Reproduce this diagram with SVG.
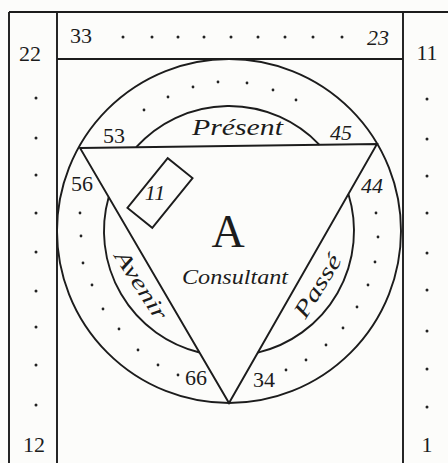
<svg xmlns="http://www.w3.org/2000/svg" width="448" height="463" viewBox="0 0 448 463">
<style>
.ln{stroke:#1c1c1c;stroke-width:1.9;fill:none}
.dt{fill:#222}
.num{font-family:"Liberation Serif",serif;font-size:22px;fill:#1c1c1c}
.scr{font-family:"Liberation Serif",serif;font-style:italic;fill:#1c1c1c}
</style>
<rect width="448" height="463" fill="#fcfcfa"/>
<g id="frame">
<path class="ln" d="M9,12H448M9,12V463M57,12V463M403,12V463M57,59H403"/>
<text class="num" x="30" y="61" text-anchor="middle">22</text>
<text class="num" x="427" y="60" text-anchor="middle" font-size="19">11</text>
<text class="num" x="34" y="452" text-anchor="middle">12</text>
<text class="num" x="427" y="452" text-anchor="middle" font-size="19">1</text>
<text class="num" x="70" y="43" font-size="23">33</text>
<text class="num" x="367" y="45" font-style="italic" font-size="23">23</text>
</g>
<g id="column-dots">
<g class="dt">
<circle cx="36" cy="98" r="1.5"/><circle cx="36" cy="138" r="1.5"/><circle cx="36" cy="175" r="1.5"/><circle cx="36" cy="213" r="1.5"/><circle cx="36" cy="252" r="1.5"/><circle cx="36" cy="291" r="1.5"/><circle cx="36" cy="327" r="1.5"/><circle cx="36" cy="365" r="1.5"/><circle cx="36" cy="405" r="1.5"/>
<circle cx="427" cy="99" r="1.5"/><circle cx="427" cy="139" r="1.5"/><circle cx="427" cy="176" r="1.5"/><circle cx="427" cy="213" r="1.5"/><circle cx="427" cy="253" r="1.5"/><circle cx="427" cy="290" r="1.5"/><circle cx="427" cy="331" r="1.5"/><circle cx="427" cy="369" r="1.5"/><circle cx="427" cy="407" r="1.5"/>
<circle cx="123" cy="37" r="1.5"/><circle cx="152" cy="37" r="1.5"/><circle cx="178" cy="37" r="1.5"/><circle cx="204" cy="37" r="1.5"/><circle cx="231" cy="37" r="1.5"/><circle cx="258" cy="37" r="1.5"/><circle cx="285" cy="37" r="1.5"/><circle cx="313" cy="37" r="1.5"/><circle cx="342" cy="37" r="1.5"/>
</g>
</g>
<g id="circles">
<circle class="ln" cx="229" cy="231" r="172"/>
<path class="ln" d="M136.2,147.2A125,125 0 0 1 319.5,144.8M348.4,194A125,125 0 0 1 257.8,352.6M199.5,352.5A125,125 0 0 1 108.7,197.1"/>
<g class="dt">
<circle cx="144" cy="110" r="1.4"/><circle cx="168" cy="97" r="1.4"/><circle cx="193" cy="87" r="1.4"/><circle cx="218" cy="82" r="1.4"/><circle cx="247" cy="83" r="1.4"/><circle cx="273" cy="90" r="1.4"/><circle cx="296" cy="100" r="1.4"/>
<circle cx="80" cy="213" r="1.4"/><circle cx="81" cy="236" r="1.4"/><circle cx="83" cy="263" r="1.4"/><circle cx="92" cy="285" r="1.4"/><circle cx="103" cy="309" r="1.4"/><circle cx="119" cy="329" r="1.4"/><circle cx="138" cy="350" r="1.4"/><circle cx="158" cy="365" r="1.4"/><circle cx="178" cy="375" r="1.4"/>
<circle cx="376" cy="213" r="1.4"/><circle cx="378" cy="237" r="1.4"/><circle cx="375" cy="262" r="1.4"/><circle cx="368" cy="285" r="1.4"/><circle cx="357" cy="307" r="1.4"/><circle cx="343" cy="328" r="1.4"/><circle cx="326" cy="345" r="1.4"/><circle cx="306" cy="360" r="1.4"/><circle cx="286" cy="370" r="1.4"/>
</g>
</g>
<g id="triangle">
<path class="ln" d="M80,148L377,144L229,403Z"/>
<text class="num" x="103" y="143">53</text>
<text class="num" x="330" y="140" font-style="italic">45</text>
<text class="num" x="71" y="191">56</text>
<text class="num" x="361" y="193" font-style="italic">44</text>
<text class="num" x="185" y="385">66</text>
<text class="num" x="253" y="387">34</text>
</g>
<g id="labels">
<text class="scr" x="192" y="135" font-size="24" textLength="91" lengthAdjust="spacingAndGlyphs">Présent</text>
<text x="228" y="247" text-anchor="middle" font-family="Liberation Serif,serif" font-size="46" fill="#1c1c1c">A</text>
<text class="scr" x="182" y="284" font-size="20" textLength="106" lengthAdjust="spacingAndGlyphs">Consultant</text>
<text class="scr" x="0" y="0" font-size="22" text-anchor="middle" textLength="78" lengthAdjust="spacingAndGlyphs" transform="translate(135,289) rotate(57)">Avenir</text>
<text class="scr" x="0" y="0" font-size="23" text-anchor="middle" textLength="70" lengthAdjust="spacingAndGlyphs" transform="translate(324,290) rotate(-58)">Passé</text>
</g>
<g id="box-11">
<rect class="ln" x="-32" y="-16" width="64" height="32" transform="translate(160,193) rotate(-51)"/>
<text class="num" x="155" y="200" text-anchor="middle" font-size="19" font-style="italic">11</text>
</g>
</svg>
